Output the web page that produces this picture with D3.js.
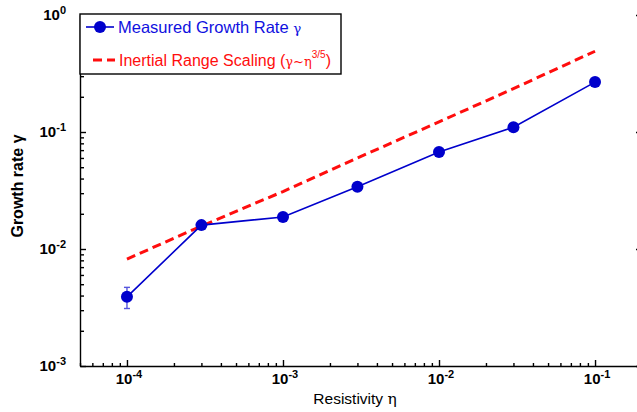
<!DOCTYPE html>
<html>
<head>
<meta charset="utf-8">
<script src="https://cdn.jsdelivr.net/npm/d3@7"></script>
<style>
  body { margin: 0; background: #fff; }
  svg { font-family: "Liberation Sans", Arial, sans-serif; }
</style>
</head>
<body>
<svg id="canvas" width="637" height="412"></svg>
<script>
// data
var eta = [1e-4, 3e-4, 1e-3, 3e-3, 1e-2, 3e-2, 1e-1]
var gammaMeasured = [0.0039, 0.016, 0.0188, 0.034, 0.0675, 0.11, 0.267]
var errLow = [0.0031, null, null, null, null, null, null]
var errHigh = [0.0047, null, null, null, null, null, null]
var gammaScaling = [0.0082, 0.0157, 0.031, 0.060, 0.122, 0.235, 0.49]
var xMajor = [1e-4, 1e-3, 1e-2, 1e-1]
var yMajor = [1e-3, 1e-2, 1e-1, 1]

var blue = '#0000cc', red = '#ff0d0d'

var svg = d3.select('#canvas')

var x = d3.scaleLog().domain([5e-5, 0.2]).range([80, 642])
var y = d3.scaleLog().domain([1e-3, 1]).range([366, 15])

// exponent of a power of ten, for the tick labels
function expo(v) { return Math.round(Math.log10(v)) }

// minor ticks
svg.append('g')
    .attr('transform', 'translate(0,366)')
    .call(d3.axisBottom(x).tickValues(x.ticks().filter(v => xMajor.indexOf(v) < 0)).tickSize(-3).tickFormat(''))
    .call(g => g.select('.domain').remove())
svg.append('g')
    .attr('transform', 'translate(80,0)')
    .call(d3.axisLeft(y).tickValues(y.ticks().filter(v => yMajor.indexOf(v) < 0)).tickSize(-4).tickFormat(''))
    .call(g => g.select('.domain').remove())

// major ticks + axis lines
svg.append('g')
    .attr('transform', 'translate(0,366)')
    .call(d3.axisBottom(x).tickValues(xMajor).tickSize(-6).tickSizeOuter(0).tickFormat(''))
svg.append('g')
    .attr('transform', 'translate(80,0)')
    .call(d3.axisLeft(y).tickValues(yMajor).tickSize(-6).tickSizeOuter(0).tickFormat(''))
svg.append('g')
    .attr('transform', 'translate(642,0)')
    .call(d3.axisRight(y).tickValues(yMajor).tickSize(-6).tickSizeOuter(0).tickFormat(''))

svg.selectAll('.domain, .tick line').attr('stroke', '#000').attr('stroke-width', 1.4)

// tick labels
var xl = svg.selectAll('.xlab').data(xMajor).join('text')
    .attr('class', 'xlab')
    .attr('x', d => x(d) + 2)
    .attr('y', 384)
    .attr('text-anchor', 'middle')
    .attr('font-size', 15).attr('font-weight', 'bold')
xl.append('tspan').text('10')
xl.append('tspan').attr('font-size', 11).attr('dy', -6).text(d => expo(d) === 0 ? '0' : '-' + (-expo(d)))

var yl = svg.selectAll('.ylab').data(yMajor).join('text')
    .attr('class', 'ylab')
    .attr('x', 66)
    .attr('y', d => y(d) + 5)
    .attr('text-anchor', 'end')
    .attr('font-size', 15).attr('font-weight', 'bold')
yl.append('tspan').text('10')
yl.append('tspan').attr('font-size', 11).attr('dy', -6).text(d => expo(d) === 0 ? '0' : '-' + (-expo(d)))

// axis titles
var xt = svg.append('text')
    .attr('x', 355).attr('y', 404)
    .attr('text-anchor', 'middle')
    .attr('font-size', 15.5)
xt.append('tspan').text('Resistivity  ')
xt.append('tspan').attr('font-family', '"DejaVu Serif", serif').text('η')

svg.append('text')
    .attr('transform', 'translate(23,186) rotate(-90)')
    .attr('text-anchor', 'middle')
    .attr('font-size', 16).attr('font-weight', 'bold')
    .text('Growth rate  γ')

// scaling line
var line = d3.line().x((d, i) => x(eta[i])).y(d => y(d))
svg.append('path')
    .datum(gammaScaling)
    .attr('d', line)
    .attr('fill', 'none')
    .attr('stroke', red)
    .attr('stroke-width', 3)
    .attr('stroke-dasharray', '9,5')

// measured line
svg.append('path')
    .datum(gammaMeasured)
    .attr('d', line)
    .attr('fill', 'none')
    .attr('stroke', blue)
    .attr('stroke-width', 1.6)

// error bars
var eb = eta.map((e, i) => ({e: e, lo: errLow[i], hi: errHigh[i]})).filter(d => d.lo != null)
var ebg = svg.selectAll('.err').data(eb).join('g').attr('class', 'err')
    .attr('stroke', '#5555dd').attr('stroke-width', 1.4)
ebg.append('line').attr('x1', d => x(d.e)).attr('x2', d => x(d.e)).attr('y1', d => y(d.lo)).attr('y2', d => y(d.hi))
ebg.append('line').attr('x1', d => x(d.e) - 3).attr('x2', d => x(d.e) + 3).attr('y1', d => y(d.lo)).attr('y2', d => y(d.lo))
ebg.append('line').attr('x1', d => x(d.e) - 3).attr('x2', d => x(d.e) + 3).attr('y1', d => y(d.hi)).attr('y2', d => y(d.hi))

svg.selectAll('.pt').data(gammaMeasured).join('circle')
    .attr('class', 'pt')
    .attr('cx', (d, i) => x(eta[i]))
    .attr('cy', d => y(d))
    .attr('r', 6)
    .attr('fill', blue)

// legend
svg.append('rect')
    .attr('x', 80).attr('y', 14).attr('width', 261).attr('height', 60)
    .attr('fill', '#fff').attr('stroke', '#000').attr('stroke-width', 1.4)
svg.append('line').attr('x1', 86).attr('x2', 114).attr('y1', 27).attr('y2', 27)
    .attr('stroke', blue).attr('stroke-width', 1.6)
svg.append('circle').attr('cx', 100).attr('cy', 27).attr('r', 6).attr('fill', blue)
var l1 = svg.append('text').attr('x', 118).attr('y', 33).attr('font-size', 16.5).attr('fill', '#1010e0')
l1.append('tspan').text('Measured Growth Rate ')
l1.append('tspan').attr('font-family', '"DejaVu Serif", serif').attr('font-size', 13.5).text('γ')

svg.append('line').attr('x1', 93).attr('x2', 115).attr('y1', 60).attr('y2', 60)
    .attr('stroke', red).attr('stroke-width', 3).attr('stroke-dasharray', '9,5')
var l2 = svg.append('text').attr('x', 119).attr('y', 66).attr('font-size', 16).attr('fill', red)
l2.append('tspan').text('Inertial Range Scaling (')
l2.append('tspan').attr('font-family', '"DejaVu Serif", serif').attr('font-size', 13).text('γ~η')
l2.append('tspan').attr('font-size', 10).attr('dy', -8).text('3/5')
l2.append('tspan').attr('dy', 8).text(')')
</script>
</body>
</html>
